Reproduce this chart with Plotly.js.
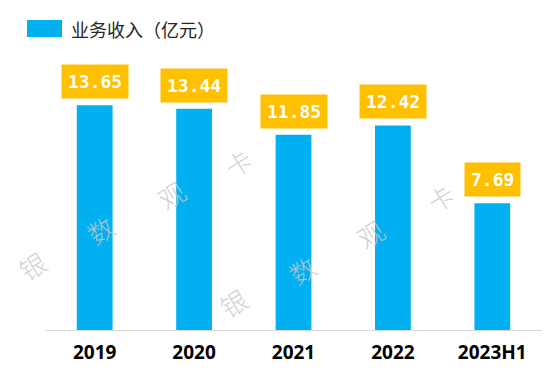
<!DOCTYPE html>
<html>
<head>
<meta charset="utf-8">
<script src="https://cdn.plot.ly/plotly-3.0.1.min.js"></script>
<style>html,body{margin:0;padding:0;background:#fff;}#chart{width:555px;height:388px;}</style>
</head>
<body>
<div id="chart"></div>
<script>
const categories = ['2019', '2020', '2021', '2022', '2023H1'];
const revenue = [13.65, 13.44, 11.85, 12.42, 7.69];
const seriesName = '业务收入（亿元）';
const watermarkChars = ['银', '数', '观', '卡'];

const W = 555, H = 388;
const M = {l: 45, r: 13, t: 50, b: 58};
function px(x) { return (x - M.l) / (W - M.l - M.r); }
function py(y) { return (H - M.b - y) / (H - M.t - M.b); }

const barColor = '#00B0F0';
const boxColor = '#FFC000';

const annotations = categories.map((c, i) => ({
  x: i, y: revenue[i], xref: 'x', yref: 'y',
  text: revenue[i].toFixed(2),
  showarrow: false, yanchor: 'bottom', yshift: 6,
  bgcolor: boxColor, borderpad: 6,
  font: {family: 'DejaVu Sans Mono', size: 18, color: '#ffffff', weight: 'bold'}
}));

// legend text
annotations.push({
  xref: 'paper', yref: 'paper', x: px(69), y: py(28.5),
  xanchor: 'left', yanchor: 'middle', showarrow: false,
  text: seriesName,
  font: {family: 'Noto Sans CJK SC', size: 18, color: '#262626'}
});

// watermarks
const wmPos = [[32, 265], [100, 229], [171, 194], [238, 162], [233, 302], [302, 269], [370, 233], [440, 197]];
wmPos.forEach((p, i) => {
  annotations.push({
    xref: 'paper', yref: 'paper', x: px(p[0]), y: py(p[1]),
    xanchor: 'center', yanchor: 'middle', showarrow: false,
    text: watermarkChars[i % 4], textangle: -32,
    font: {family: 'Noto Sans CJK SC', size: 26, color: 'rgba(200,200,200,0.85)', weight: 300}
  });
});

const trace = {
  type: 'bar', x: categories, y: revenue, name: seriesName,
  marker: {color: barColor}, hoverinfo: 'none'
};

const layout = {
  width: W, height: H,
  margin: M,
  paper_bgcolor: '#ffffff', plot_bgcolor: '#ffffff',
  showlegend: false,
  bargap: 0.64,
  xaxis: {
    type: 'category', categoryorder: 'array', categoryarray: categories,
    range: [-0.5, categories.length - 0.5], autorange: false,
    showline: true, linecolor: '#D9D9D9', linewidth: 1,
    ticks: '', showgrid: false, zeroline: false,
    tickfont: {family: 'Noto Sans', size: 19, color: '#000000', weight: 'bold'},
    ticklabelstandoff: 5
  },
  yaxis: {range: [0, 17], autorange: false, showgrid: false, zeroline: false, showticklabels: false, showline: false, ticks: ''},
  shapes: [{
    type: 'rect', xref: 'paper', yref: 'paper',
    x0: px(27), x1: px(62), y0: py(37), y1: py(20),
    fillcolor: barColor, line: {width: 0}
  }],
  annotations: annotations
};

Plotly.newPlot('chart', [trace], layout, {staticPlot: true, displayModeBar: false});
</script>
</body>
</html>
